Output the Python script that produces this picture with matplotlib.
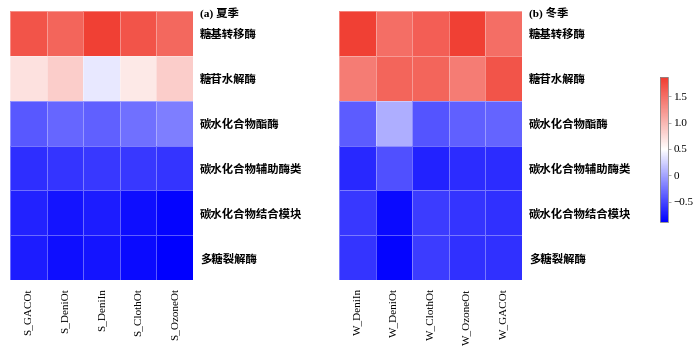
import numpy as np
import matplotlib
matplotlib.use("Agg")
import matplotlib.pyplot as plt
from matplotlib.colors import LinearSegmentedColormap, Normalize

FONT_LAT = ["Liberation Serif", "Noto Sans CJK SC"]
FONT_CJK = ["Noto Sans CJK SC", "Liberation Serif"]

rows = ["糖基转移酶", "糖苷水解酶", "碳水化合物酯酶",
        "碳水化合物辅助酶类", "碳水化合物结合模块", "多糖裂解酶"]

summer_cols = ["S_GACOt", "S_DeniOt", "S_DeniIn", "S_ClothOt", "S_OzoneOt"]
summer_vals = [
    [1.68, 1.57, 1.82, 1.68, 1.54],
    [0.70, 0.84, 0.37, 0.65, 0.84],
    [-0.40, -0.33, -0.36, -0.28, -0.20],
    [-0.63, -0.60, -0.58, -0.58, -0.60],
    [-0.69, -0.77, -0.72, -0.80, -0.85],
    [-0.72, -0.80, -0.77, -0.82, -0.87],
]

winter_cols = ["W_DeniIn", "W_DeniOt", "W_ClothOt", "W_OzoneOt", "W_GACOt"]
winter_vals = [
    [1.82, 1.50, 1.61, 1.82, 1.50],
    [1.40, 1.57, 1.57, 1.40, 1.68],
    [-0.38, 0.06, -0.42, -0.36, -0.34],
    [-0.66, -0.45, -0.69, -0.64, -0.64],
    [-0.58, -0.82, -0.55, -0.60, -0.62],
    [-0.60, -0.85, -0.55, -0.62, -0.62],
]

titles = ["(a) 夏季", "(b) 冬季"]
cbar_ticks = [-0.5, 0, 0.5, 1.0, 1.5]
cbar_labels = ["\u22120.5", "0", "0.5", "1.0", "1.5"]

VMIN, VMAX = -0.88, 1.86
cmap = LinearSegmentedColormap.from_list(
    "bwr_custom", [(0.0, "#0000FF"), (0.5, "#FFFFFF"), (1.0, "#F03B2F")])
norm = Normalize(VMIN, VMAX)

W, H = 700, 351
fig = plt.figure(figsize=(7.0, 3.51), dpi=100)


def draw_panel(left_px, cols, vals, title):
    ax = fig.add_axes([left_px / W, 1 - 280 / H, 183 / W, 269 / H])
    data = np.array(vals)
    mesh = ax.pcolormesh(data, cmap=cmap, norm=norm,
                         edgecolors=(1, 1, 1, 0.35), linewidth=0.5)
    ax.set_xlim(0, data.shape[1])
    ax.set_ylim(data.shape[0], 0)
    for s in ax.spines.values():
        s.set_visible(False)
    ax.set_xticks(np.arange(data.shape[1]) + 0.5)
    ax.set_xticklabels(cols, rotation=90, fontsize=8, family=FONT_LAT)
    ax.tick_params(axis="x", length=0, pad=6)
    ax.yaxis.tick_right()
    ax.set_yticks(np.arange(data.shape[0]) + 0.5)
    ax.set_yticklabels(rows, fontsize=8.2, family=FONT_CJK, fontweight="bold")
    ax.tick_params(axis="y", length=0, pad=5)
    fig.text((left_px + 190) / W, 1 - 13 / H, title, fontsize=8.2,
             family=FONT_LAT, fontweight="bold", va="center", ha="left")
    return mesh


mesh = draw_panel(10, summer_cols, summer_vals, titles[0])
draw_panel(339, winter_cols, winter_vals, titles[1])

cax = fig.add_axes([660 / W, 1 - 222 / H, 8 / W, 145 / H])
cb = fig.colorbar(mesh, cax=cax)
cb.set_ticks(cbar_ticks)
cb.set_ticklabels(cbar_labels)
cb.outline.set_edgecolor("#888888")
cb.outline.set_linewidth(0.6)
cax.tick_params(labelsize=8, length=2, width=0.5, color="#888888", pad=2)
for t in cax.get_yticklabels():
    t.set_family(FONT_LAT)

fig.savefig("out.png", dpi=100)
